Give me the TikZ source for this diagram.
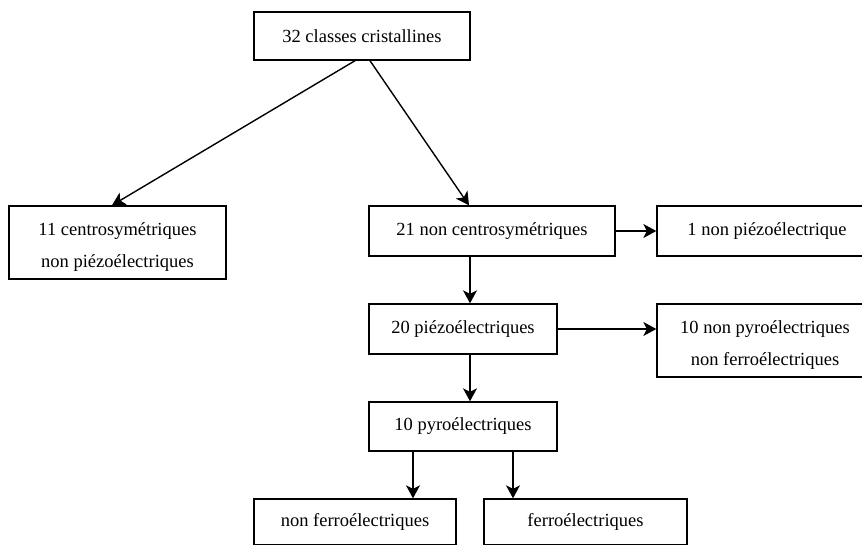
\documentclass[tikz,border=0pt]{standalone}
\usepackage{fontspec}
\setmainfont{Liberation Serif}
\usetikzlibrary{arrows.meta, positioning}

\begin{document}
\begin{tikzpicture}[
    x=1pt, y=-1pt,
    classbox/.style={draw, line width=1.4pt, inner sep=0pt, align=center,
                     font=\fontsize{18.5}{32}\selectfont},
    link/.style={draw, line width=1.4pt, -{Stealth[length=13pt, width=14pt, inset=3.5pt]}}
]
\useasboundingbox (0,0) rectangle (862,544);
\node[classbox, minimum width=216pt, minimum height=48pt] (top)       at (362, 36)    {32 classes cristallines};
\node[classbox, minimum width=217pt, minimum height=73pt] (centro)    at (117.5, 242.5) {\rule{0pt}{21pt}11 centrosymétriques\\non piézoélectriques};
\node[classbox, minimum width=246pt, minimum height=50pt] (noncentro) at (492, 231)   {21 non centrosymétriques};
\node[classbox, minimum width=220pt, minimum height=50pt] (nonpiezo)  at (767, 231)   {1 non piézoélectrique};
\node[classbox, minimum width=188pt, minimum height=50pt] (piezo)     at (463, 329)   {20 piézoélectriques};
\node[classbox, minimum width=216pt, minimum height=73pt] (nonpyro)   at (765, 340.5) {\rule{0pt}{22pt}10 non pyroélectriques\\non ferroélectriques};
\node[classbox, minimum width=188pt, minimum height=49pt] (pyro)      at (463, 426.5) {10 pyroélectriques};
\node[classbox, minimum width=202pt, minimum height=46pt] (nonferro)  at (355, 522)   {non ferroélectriques};
\node[classbox, minimum width=203pt, minimum height=46pt] (ferro)     at (585.5, 522) {ferroélectriques};
\coordinate (spine) at (470, 0);
\draw[link] ([xshift=-7pt]top.south) -- ([xshift=-5.5pt]centro.north);
\draw[link] ([xshift=8pt]top.south)  -- ([xshift=-23pt]noncentro.north);
\draw[link] (noncentro.east) -- (nonpiezo.west);
\draw[link] (noncentro.south -| spine) -- (piezo.north -| spine);
\draw[link] (piezo.east) -- (piezo.east -| nonpyro.west);
\draw[link] (piezo.south -| spine) -- (pyro.north -| spine);
\draw[link] ([xshift=-50pt]pyro.south) -- ([xshift=-50pt]pyro.south |- nonferro.north);
\draw[link] ([xshift=50pt]pyro.south)  -- ([xshift=50pt]pyro.south |- ferro.north);
\end{tikzpicture}
\end{document}
